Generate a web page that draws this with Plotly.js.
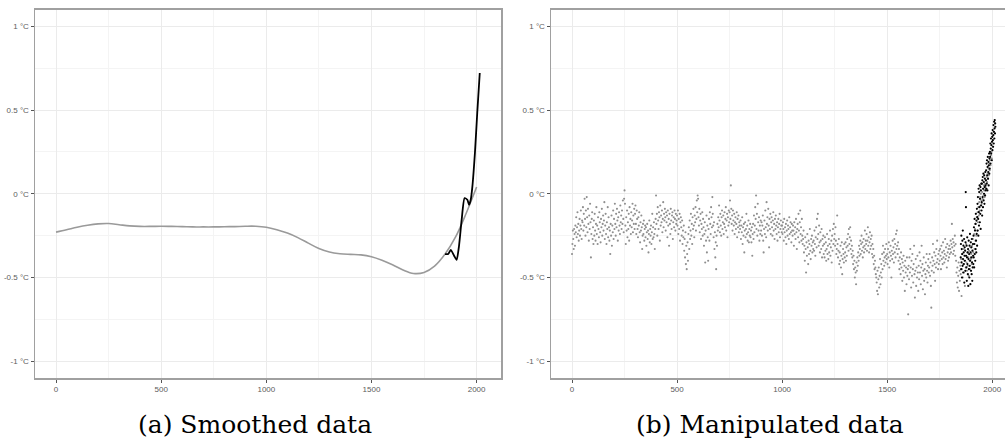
<!DOCTYPE html>
<html>
<head>
<meta charset="utf-8">
<script src="https://cdn.plot.ly/plotly-3.0.1.min.js"></script>
<style>
html,body{margin:0;padding:0;overflow:hidden;background:#fff;}
#chart{width:1020px;height:440px;}
</style>
</head>
<body>
<div id="chart"></div>
<script>
// ---- Data ----
// Panel (a): smoothed reconstruction (years, °C)
const smoothYears = [0,50,100,150,200,250,300,350,400,450,500,550,600,650,700,750,800,850,900,950,1000,1050,1100,1150,1200,1250,1300,1350,1400,1450,1500,1550,1600,1650,1700,1750,1800,1850,1900,1950,2000];
const smoothValues = [-0.229,-0.215,-0.200,-0.188,-0.180,-0.178,-0.185,-0.192,-0.195,-0.195,-0.194,-0.195,-0.196,-0.198,-0.198,-0.198,-0.197,-0.196,-0.194,-0.194,-0.200,-0.215,-0.235,-0.262,-0.295,-0.327,-0.348,-0.358,-0.362,-0.365,-0.376,-0.397,-0.424,-0.455,-0.476,-0.470,-0.432,-0.360,-0.258,-0.118,0.040];
// Panel (a): smoothed instrumental record
const instYears = [1850,1865,1877,1893,1905,1916,1929,1943,1956,1964,1972,1980,1992,2003,2015];
const instValues = [-0.36,-0.36,-0.335,-0.37,-0.395,-0.315,-0.155,-0.026,-0.036,-0.066,-0.036,0.044,0.243,0.482,0.721];

// Panel (b): proxy points, every 2 years from year 0
const proxyStartYear = 0;
const proxyStep = 2;
const proxyValues = [
-.36,-.30,-.22,-.27,-.33,-.21,-.24,-.31,-.19,-.23,-.14,-.26,-.20,-.11,-.24,-.18,-.28,-.22,-.15,-.25,-.19,-.10,-.21,-.27,-.16,
-.17,-.08,-.22,-.12,-.19,-.03,-.15,-.25,-.10,-.20,-.02,-.14,-.23,-.09,-.18,-.28,-.13,-.21,-.06,-.17,-.38,-.24,-.15,-.11,-.27,
-.20,-.30,-.16,-.25,-.12,-.22,-.28,-.18,-.08,-.24,-.19,-.30,-.14,-.21,-.26,-.11,-.17,-.23,-.29,-.15,-.20,-.09,-.25,-.18,-.13,
-.22,-.16,-.05,-.27,-.19,-.12,-.24,-.30,-.17,-.21,-.08,-.26,-.14,-.20,-.28,-.22,-.36,-.18,-.25,-.13,-.31,-.19,-.23,-.10,-.27,
-.15,-.21,-.06,-.18,-.25,-.12,-.20,-.09,-.16,-.28,-.14,-.22,-.11,-.19,-.24,-.07,-.17,-.13,-.21,-.10,-.18,-.04,-.15,-.23,-.03,
.02,-.06,-.19,-.30,-.14,-.22,-.10,-.26,-.17,-.21,-.12,-.28,-.08,-.19,-.15,-.24,-.11,-.20,-.16,-.06,-.23,-.13,-.18,-.09,-.21,
-.12,-.07,-.18,-.24,-.10,-.15,-.21,-.26,-.14,-.19,-.11,-.23,-.29,-.17,-.22,-.13,-.20,-.33,-.25,-.18,-.24,-.16,-.28,-.21,-.19,
-.26,-.20,-.31,-.23,-.18,-.27,-.22,-.35,-.24,-.16,-.29,-.21,-.25,-.19,-.30,-.23,-.12,-.27,-.20,-.26,-.17,-.24,-.33,-.21,-.15,
-.01,-.18,-.12,-.25,-.08,-.16,-.21,-.11,-.14,-.28,-.07,-.19,-.13,-.17,-.10,-.23,-.15,-.05,-.20,-.12,-.16,-.09,-.14,-.22,-.11,
-.17,-.13,-.26,-.10,-.19,-.15,-.31,-.12,-.18,-.24,-.09,-.16,-.21,-.13,-.11,-.27,-.17,-.14,-.20,-.10,-.15,-.22,-.12,-.18,-.16,
-.13,-.19,-.10,-.24,-.15,-.21,-.12,-.28,-.17,-.14,-.20,-.25,-.16,-.30,-.22,-.26,-.19,-.34,-.27,-.38,-.23,-.42,-.31,-.45,-.36,
-.29,-.40,-.24,-.20,-.33,-.16,-.27,-.22,-.12,-.25,-.18,-.30,-.14,-.21,-.09,-.19,-.26,-.13,-.17,-.08,-.22,-.15,-.04,-.11,-.01,
-.03,-.14,-.19,-.09,-.23,-.16,-.12,-.27,-.18,-.21,-.11,-.25,-.15,-.20,-.31,-.24,-.17,-.41,-.22,-.28,-.13,-.35,-.19,-.26,-.40,
-.21,-.15,-.28,-.11,-.18,-.24,-.08,-.14,-.20,-.02,-.12,-.19,-.26,-.17,-.33,-.23,-.38,-.29,-.45,-.25,-.31,-.18,-.22,-.14,-.20,
-.07,-.16,-.23,-.12,-.19,-.25,-.14,-.10,-.21,-.17,-.13,-.24,-.18,-.11,-.20,-.15,-.08,-.22,-.16,-.12,-.26,-.14,-.19,-.10,-.17,
-.11,-.04,-.15,.05,-.09,-.18,-.13,-.22,-.10,-.16,-.19,-.12,-.24,-.17,-.14,-.21,-.18,-.11,-.26,-.15,-.20,-.13,-.23,-.17,-.19,
-.21,-.16,-.27,-.19,-.23,-.14,-.30,-.20,-.25,-.18,-.35,-.22,-.17,-.26,-.21,-.12,-.24,-.19,-.28,-.23,-.16,-.29,-.21,-.25,-.18,
-.26,-.22,-.29,-.20,-.37,-.24,-.18,-.27,-.13,-.23,-.19,-.08,-.15,-.01,-.21,-.12,-.25,-.06,-.17,-.22,-.14,-.28,-.19,-.24,-.16,
-.22,-.17,-.25,-.19,-.13,-.28,-.35,-.21,-.16,-.24,-.10,-.20,-.26,-.05,-.18,-.14,-.22,-.09,-.19,-.32,-.15,-.21,-.12,-.24,-.17,
-.14,-.20,-.25,-.16,-.11,-.22,-.18,-.27,-.15,-.21,-.13,-.19,-.24,-.17,-.28,-.20,-.15,-.23,-.18,-.12,-.26,-.21,-.16,-.19,-.23,
-.19,-.24,-.17,-.21,-.28,-.15,-.23,-.20,-.26,-.18,-.30,-.22,-.16,-.25,-.19,-.21,-.27,-.14,-.24,-.20,-.17,-.23,-.29,-.18,-.22,
-.25,-.19,-.22,-.31,-.17,-.24,-.20,-.27,-.15,-.23,-.33,-.21,-.18,-.26,-.12,-.22,-.29,-.17,-.10,-.24,-.20,-.28,-.15,-.25,-.30,
-.27,-.22,-.35,-.31,-.40,-.26,-.33,-.47,-.29,-.37,-.24,-.32,-.42,-.28,-.36,-.30,-.21,-.34,-.39,-.27,-.31,-.25,-.35,-.29,-.33,
-.28,-.34,-.22,-.30,-.37,-.26,-.20,-.32,-.15,-.27,-.12,-.24,-.31,-.19,-.29,-.35,-.23,-.28,-.33,-.21,-.38,-.27,-.31,-.25,-.36,
-.30,-.38,-.26,-.34,-.29,-.40,-.33,-.24,-.36,-.31,-.39,-.27,-.35,-.30,-.22,-.37,-.32,-.28,-.41,-.25,-.34,-.21,-.30,-.18,-.27,
-.24,-.31,-.20,-.28,-.36,-.33,-.13,-.30,-.38,-.34,-.27,-.42,-.35,-.40,-.31,-.44,-.37,-.29,-.48,-.39,-.33,-.36,-.41,-.30,-.38,
-.35,-.29,-.40,-.32,-.37,-.27,-.31,-.24,-.34,-.21,-.30,-.26,-.20,-.33,-.28,-.36,-.31,-.38,-.34,-.42,-.37,-.45,-.40,-.50,-.44,
-.47,-.54,-.41,-.46,-.38,-.43,-.35,-.40,-.31,-.37,-.33,-.28,-.36,-.30,-.25,-.34,-.29,-.38,-.32,-.27,-.35,-.31,-.22,-.33,-.28,
-.30,-.24,-.34,-.28,-.20,-.31,-.26,-.35,-.29,-.23,-.33,-.27,-.31,-.25,-.36,-.30,-.38,-.33,-.42,-.37,-.45,-.40,-.44,-.48,-.50,
-.53,-.58,-.46,-.60,-.51,-.44,-.56,-.49,-.39,-.54,-.47,-.42,-.50,-.36,-.45,-.31,-.40,-.35,-.43,-.38,-.33,-.41,-.37,-.30,-.39,
-.36,-.42,-.33,-.38,-.29,-.44,-.35,-.40,-.31,-.37,-.50,-.34,-.39,-.28,-.36,-.32,-.41,-.27,-.35,-.30,-.38,-.24,-.33,-.22,-.31,
-.36,-.29,-.40,-.33,-.45,-.38,-.42,-.48,-.35,-.44,-.39,-.52,-.41,-.46,-.37,-.50,-.43,-.58,-.40,-.47,-.44,-.54,-.38,-.49,-.45,
-.72,-.43,-.51,-.38,-.47,-.33,-.44,-.56,-.40,-.49,-.36,-.45,-.53,-.42,-.31,-.48,-.62,-.46,-.39,-.55,-.44,-.50,-.37,-.47,-.58,
-.43,-.51,-.35,-.47,-.40,-.54,-.44,-.31,-.49,-.42,-.57,-.46,-.38,-.52,-.45,-.60,-.48,-.41,-.50,-.36,-.46,-.53,-.43,-.39,-.47,
-.44,-.36,-.49,-.41,-.55,-.68,-.46,-.38,-.43,-.30,-.40,-.47,-.35,-.42,-.52,-.37,-.44,-.33,-.41,-.28,-.39,-.45,-.36,-.42,-.34,
-.40,-.33,-.37,-.45,-.31,-.39,-.35,-.42,-.29,-.38,-.34,-.41,-.36,-.27,-.39,-.32,-.37,-.44,-.30,-.35,-.40,-.33,-.38,-.31,-.36,
-.33,-.28,-.35,-.30,-.18,-.32,-.27,-.36,-.29,-.34,-.31,-.25,-.37,-.30,-.40,-.47,-.53,-.44,-.56,-.49,-.41,-.58,-.46,-.52,-.43,
-.48,-.39,-.61,-.45,-.36,-.50,-.42,-.33,-.47,-.40,-.55,-.37,-.44,-.30,-.41,-.46,-.35,-.43,-.38,-.49,-.34,-.40,-.45,-.32,-.39,
-.36,-.42,-.31,-.38,-.27,-.35,-.30,-.24,-.33,-.21,-.28,-.18,-.25,-.14,-.22,-.11,-.17,-.08,-.13,-.05,-.10,-.02,-.07,.00,-.04,
-.06,.01,-.03,.03,-.01,.05,.02,-.02,.06,.04,.08,.03,.10,.07,.12,.09,.15,.11,.18,.14,.20,.17,.23,.25,.21
];
// Panel (b): instrumental points, annual from 1850
const obsStartYear = 1850;
const obsValues = [
-.38,-.30,-.45,-.25,-.41,-.33,-.50,-.36,-.28,-.43,-.22,-.39,-.47,-.31,-.35,-.42,-.27,-.53,-.37,-.32,
-.40,-.34,-.46,-.29,.01,-.08,-.37,-.44,-.31,-.52,-.38,-.26,-.42,-.35,-.48,-.33,-.55,-.39,-.28,-.45,
-.36,-.50,-.31,-.43,-.24,-.40,-.54,-.35,-.29,-.46,-.38,-.32,-.48,-.27,-.41,-.52,-.34,-.44,-.30,-.37,
-.42,-.25,-.38,-.20,-.44,-.30,-.15,-.36,-.22,-.40,-.18,-.33,-.12,-.28,-.35,-.16,-.24,-.09,-.31,-.14,
-.06,-.22,-.02,-.15,-.25,.03,-.11,-.19,.01,-.08,.05,-.17,-.03,-.12,.04,-.21,.02,-.07,.06,-.10,
-.05,.06,-.13,.08,-.02,.10,-.08,.03,.12,-.04,.07,.00,.11,-.06,.04,.09,-.01,.13,.05,.02,
.08,.14,.03,.18,.06,.20,.11,.02,.16,.22,.09,.13,.19,.05,.17,.24,.12,.21,.15,.25,
.22,.30,.18,.27,.33,.24,.29,.36,.20,.31,.34,.26,.38,.32,.28,.35,.41,.30,.37,.43,.33,.39,.44,.36,.42,.40
];

const xTickVals = [0,500,1000,1500,2000];
const yTickVals = [-1,-0.5,0,0.5,1];
const yTickText = ['-1 °C','-0.5 °C','0 °C','0.5 °C','1 °C'];
const captions = ['(a) Smoothed data','(b) Manipulated data'];

// ---- Build ----
const proxyYears = proxyValues.map((_, i) => proxyStartYear + i * proxyStep);
const obsYears = obsValues.map((_, i) => obsStartYear + i);

const W = 1020, H = 440;
const fx = p => p / W;
const fy = p => 1 - p / H;

const traces = [
  {x: smoothYears, y: smoothValues, type: 'scatter', mode: 'lines',
   line: {color: '#9a9a9a', width: 1.6, shape: 'spline', smoothing: 1}, xaxis: 'x', yaxis: 'y', hoverinfo: 'skip'},
  {x: instYears, y: instValues, type: 'scatter', mode: 'lines',
   line: {color: '#000000', width: 1.8, shape: 'spline', smoothing: 0.6}, xaxis: 'x', yaxis: 'y', hoverinfo: 'skip'},
  {x: proxyYears, y: proxyValues, type: 'scatter', mode: 'markers',
   marker: {color: '#8f8f8f', size: 2.1}, xaxis: 'x2', yaxis: 'y2', hoverinfo: 'skip'},
  {x: obsYears, y: obsValues, type: 'scatter', mode: 'markers',
   marker: {color: '#000000', size: 2.2}, xaxis: 'x2', yaxis: 'y2', hoverinfo: 'skip'}
];

const tickFont = {family: 'Liberation Sans, Arial, sans-serif', size: 8, color: '#5c5c5c'};
function xAxis(domain, anchor) {
  return {domain: domain, anchor: anchor, range: [-100, 2116], tickvals: xTickVals,
    ticks: 'outside', ticklen: 3, tickcolor: '#555', tickwidth: 1, tickfont: tickFont,
    showgrid: true, gridcolor: '#ebebeb', gridwidth: 1, zeroline: false,
    minor: {dtick: 250, tick0: 0, showgrid: true, gridcolor: '#f4f4f4', gridwidth: 1, ticks: ''},
    showline: true, mirror: true, linecolor: '#a0a0a0', linewidth: 1.5, fixedrange: true};
}
function yAxis(domain, anchor) {
  return {domain: domain, anchor: anchor, range: [-1.1, 1.1], tickvals: yTickVals, ticktext: yTickText,
    ticks: 'outside', ticklen: 3, tickcolor: '#555', tickwidth: 1, tickfont: tickFont,
    showgrid: true, gridcolor: '#ebebeb', gridwidth: 1, zeroline: false,
    minor: {dtick: 0.25, tick0: 0, showgrid: true, gridcolor: '#f4f4f4', gridwidth: 1, ticks: ''},
    showline: true, mirror: true, linecolor: '#a0a0a0', linewidth: 1.5, fixedrange: true};
}

const yDom = [fy(378), fy(9.5)];
const capFont = {family: 'DejaVu Serif, Liberation Serif, serif', size: 25, color: '#000'};
const layout = {
  width: W, height: H, margin: {l: 0, r: 0, t: 0, b: 0},
  paper_bgcolor: '#ffffff', plot_bgcolor: '#ffffff', showlegend: false,
  xaxis: xAxis([fx(35), fx(501)], 'y'),
  yaxis: yAxis(yDom, 'x'),
  xaxis2: xAxis([fx(551), fx(1016.6)], 'y2'),
  yaxis2: yAxis(yDom, 'x2'),
  annotations: [
    {text: captions[0], xref: 'paper', yref: 'paper', x: fx(255), y: fy(424), xanchor: 'center', yanchor: 'middle',
     showarrow: false, font: capFont},
    {text: captions[1], xref: 'paper', yref: 'paper', x: fx(770), y: fy(424), xanchor: 'center', yanchor: 'middle',
     showarrow: false, font: capFont}
  ]
};

Plotly.newPlot('chart', traces, layout, {displayModeBar: false, staticPlot: true});
</script>
</body>
</html>
